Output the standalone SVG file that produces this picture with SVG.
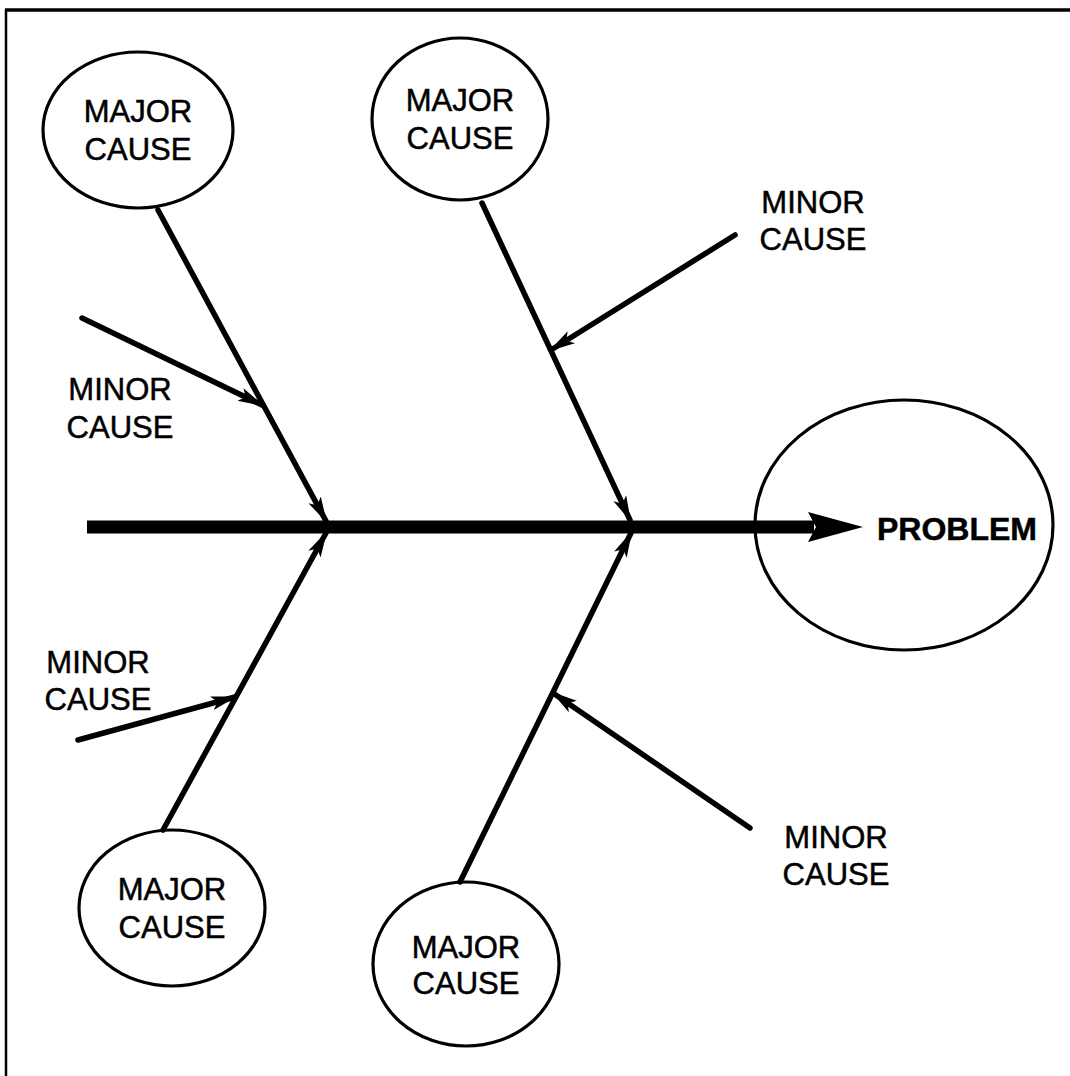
<svg xmlns="http://www.w3.org/2000/svg" width="1070" height="1076" viewBox="0 0 1070 1076">
<defs>
<style>
.node{fill:none;stroke:#000;stroke-width:3.2}
.lbl{font-family:"Liberation Sans",Arial,sans-serif;font-size:31px;text-anchor:middle;fill:#000;stroke:#000;stroke-width:0.5}
.bold{font-weight:bold;font-size:32px;text-anchor:start}
.conn{stroke:#000;stroke-width:5.5;fill:none;stroke-linecap:round;marker-end:url(#ah)}
</style>
<marker id="ah" viewBox="0 0 26 16" refX="24" refY="8" markerWidth="26" markerHeight="16" markerUnits="userSpaceOnUse" orient="auto">
<path d="M0,1 L26,8 L0,15 L6,8 Z" fill="#000"/>
</marker>
</defs>
<rect width="1070" height="1076" fill="#fff"/>
<g id="frame">
<line x1="5" y1="10" x2="1070" y2="10" stroke="#000" stroke-width="3.5"/>
<line x1="6" y1="9" x2="6" y2="1076" stroke="#000" stroke-width="2.5"/>
</g>
<g id="connectors">
<line x1="87" y1="527" x2="814" y2="527" stroke="#000" stroke-width="13"/>
<polygon points="808,512 863,527 808,542 816,527" fill="#000"/>
<line class="conn" x1="158" y1="210" x2="326" y2="521"/>
<line class="conn" x1="482" y1="203" x2="630" y2="520"/>
<line class="conn" x1="163" y1="830" x2="326" y2="533"/>
<line class="conn" x1="460" y1="882" x2="631" y2="533"/>
<line class="conn" x1="82" y1="318" x2="262" y2="405"/>
<line class="conn" x1="735" y1="235" x2="551" y2="350"/>
<line class="conn" x1="78" y1="740" x2="235" y2="697"/>
<line class="conn" x1="750" y1="828" x2="553" y2="693"/>
</g>
<g id="problem">
<ellipse class="node" cx="904" cy="525" rx="149" ry="125"/>
<text class="lbl bold" x="877" y="540">PROBLEM</text>
</g>
<g id="major1">
<ellipse class="node" cx="138" cy="130" rx="95" ry="78"/>
<text class="lbl" x="138" y="122">MAJOR</text>
<text class="lbl" x="138" y="160">CAUSE</text>
</g>
<g id="major2">
<ellipse class="node" cx="460" cy="119" rx="88" ry="81"/>
<text class="lbl" x="460" y="111">MAJOR</text>
<text class="lbl" x="460" y="149">CAUSE</text>
</g>
<g id="major3">
<ellipse class="node" cx="172" cy="908" rx="93" ry="78"/>
<text class="lbl" x="172" y="900">MAJOR</text>
<text class="lbl" x="172" y="938">CAUSE</text>
</g>
<g id="major4">
<ellipse class="node" cx="466" cy="964" rx="93" ry="82"/>
<text class="lbl" x="466" y="958">MAJOR</text>
<text class="lbl" x="466" y="994">CAUSE</text>
</g>
<g id="minor1">
<text class="lbl" x="120" y="400">MINOR</text>
<text class="lbl" x="120" y="438">CAUSE</text>
</g>
<g id="minor2">
<text class="lbl" x="813" y="213">MINOR</text>
<text class="lbl" x="813" y="250">CAUSE</text>
</g>
<g id="minor3">
<text class="lbl" x="98" y="673">MINOR</text>
<text class="lbl" x="98" y="710">CAUSE</text>
</g>
<g id="minor4">
<text class="lbl" x="836" y="848">MINOR</text>
<text class="lbl" x="836" y="885">CAUSE</text>
</g>
</svg>
